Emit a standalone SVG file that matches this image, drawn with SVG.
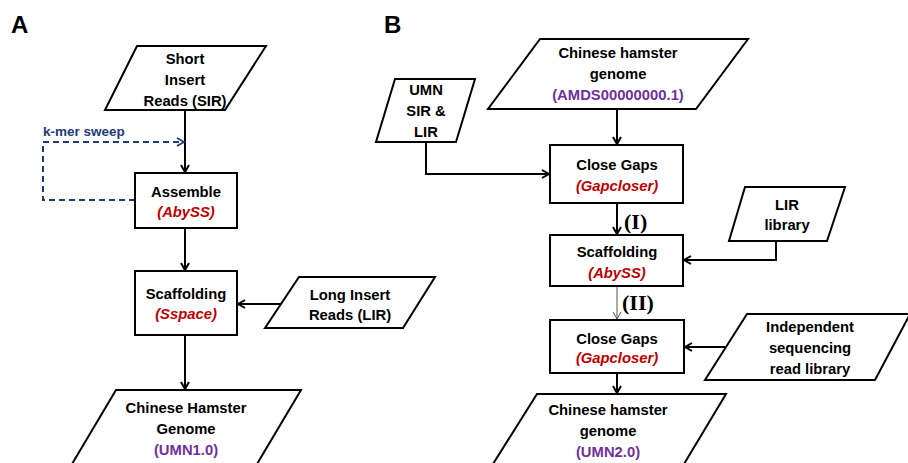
<svg xmlns="http://www.w3.org/2000/svg" width="908" height="463" viewBox="0 0 908 463">
<defs>
<marker id="arr" markerWidth="10" markerHeight="10" refX="8" refY="5" orient="auto" markerUnits="userSpaceOnUse">
<path d="M1,1 L8,5 L1,9" fill="none" stroke="#000" stroke-width="2"/>
</marker>
<marker id="arrThin" markerWidth="10" markerHeight="10" refX="8" refY="5" orient="auto" markerUnits="userSpaceOnUse">
<path d="M1,1 L8,5 L1,9" fill="none" stroke="#555" stroke-width="1"/>
</marker>
<marker id="arrBlue" markerWidth="10" markerHeight="10" refX="8" refY="5" orient="auto" markerUnits="userSpaceOnUse">
<path d="M1,1 L8,5 L1,9" fill="none" stroke="#1f3a78" stroke-width="1.8"/>
</marker>
</defs>
<style>
.shape{fill:#fff;stroke:#000;stroke-width:2}
.t{font-family:"Liberation Sans",Arial,sans-serif;font-weight:bold;font-size:14.8px;fill:#000;text-anchor:middle}
.red{fill:#c00000;font-style:italic}
.pur{fill:#7030a0}
.panel{font-family:"Liberation Sans",Arial,sans-serif;font-weight:bold;font-size:24px;fill:#000}
.roman{font-family:"Liberation Serif","Times New Roman",serif;font-weight:bold;font-size:22px;fill:#000}
.conn{fill:none;stroke:#000;stroke-width:2}
</style>
<rect width="908" height="463" fill="#fff"/>
<text class="panel" x="11" y="33">A</text>
<text class="panel" x="384" y="33">B</text>

<g id="connectors">
<line class="conn" x1="185" y1="110" x2="185" y2="172" marker-end="url(#arr)"/>
<path d="M135,200 H43 V142 H184" fill="none" stroke="#1f3a78" stroke-width="2" stroke-dasharray="6,4" marker-end="url(#arrBlue)"/>
<line class="conn" x1="185" y1="228" x2="185" y2="270" marker-end="url(#arr)"/>
<line class="conn" x1="282" y1="304" x2="238" y2="304" marker-end="url(#arr)"/>
<line class="conn" x1="185" y1="335" x2="185" y2="389" marker-end="url(#arr)"/>

<line class="conn" x1="617" y1="109" x2="617" y2="144" marker-end="url(#arr)"/>
<path class="conn" d="M426,142 V174 H549" marker-end="url(#arr)"/>
<line class="conn" x1="617" y1="203" x2="617" y2="234" marker-end="url(#arr)"/>
<path class="conn" d="M776,241 V260 H684" marker-end="url(#arr)"/>
<line x1="617" y1="286" x2="617" y2="319" stroke="#555" stroke-width="1" marker-end="url(#arrThin)"/>
<line class="conn" x1="725" y1="347" x2="685" y2="347" marker-end="url(#arr)"/>
<line class="conn" x1="617" y1="373" x2="617" y2="393" marker-end="url(#arr)"/>
</g>
<text x="43" y="136" font-family="Liberation Sans,Arial,sans-serif" font-weight="bold" font-size="13.5" fill="#1f3a78">k-mer sweep</text>
<text class="roman" x="624" y="229">(I)</text>
<text class="roman" x="622" y="310">(II)</text>

<g id="sir">
<polygon class="shape" points="137,46 266,46 225,110 105,110"/>
<text class="t" x="185" y="64">Short</text>
<text class="t" x="185" y="85">Insert</text>
<text class="t" x="185" y="106">Reads (SIR)</text>
</g>
<g id="assemble">
<rect class="shape" x="135" y="173" width="102" height="55"/>
<text class="t" x="186" y="197">Assemble</text>
<text class="t red" x="186" y="217">(AbySS)</text>
</g>
<g id="scaffoldA">
<rect class="shape" x="135" y="271" width="102" height="64"/>
<text class="t" x="186" y="299">Scaffolding</text>
<text class="t red" x="186" y="319">(Sspace)</text>
</g>
<g id="lirA">
<polygon class="shape" points="299,277 435,277 403,328 265,328"/>
<text class="t" x="350" y="300">Long Insert</text>
<text class="t" x="350" y="320">Reads (LIR)</text>
</g>
<g id="genomeA">
<polygon class="shape" points="116,390 301,390 257,464 72,464"/>
<text class="t" x="186" y="413">Chinese Hamster</text>
<text class="t" x="186" y="434">Genome</text>
<text class="t pur" x="186" y="455">(UMN1.0)</text>
</g>

<g id="genomeB">
<polygon class="shape" points="540,39 748,39 696,109 488,109"/>
<text class="t" x="618" y="58">Chinese hamster</text>
<text class="t" x="618" y="79">genome</text>
<text class="t pur" x="618" y="100">(AMDS00000000.1)</text>
</g>
<g id="umn">
<polygon class="shape" points="395,79 475,79 456,142 376,142"/>
<text class="t" x="426" y="95">UMN</text>
<text class="t" x="426" y="116">SIR &amp;</text>
<text class="t" x="426" y="137">LIR</text>
</g>
<g id="closegaps1">
<rect class="shape" x="550" y="145" width="133" height="58"/>
<text class="t" x="617" y="170">Close Gaps</text>
<text class="t red" x="617" y="191">(Gapcloser)</text>
</g>
<g id="lirB">
<polygon class="shape" points="745,187 845,187 827,241 729,241"/>
<text class="t" x="787" y="210">LIR</text>
<text class="t" x="787" y="230">library</text>
</g>
<g id="scaffoldB">
<rect class="shape" x="550" y="235" width="133" height="51"/>
<text class="t" x="617" y="257">Scaffolding</text>
<text class="t red" x="617" y="278">(AbySS)</text>
</g>
<g id="closegaps2">
<rect class="shape" x="550" y="320" width="134" height="53"/>
<text class="t" x="617" y="344">Close Gaps</text>
<text class="t red" x="617" y="363">(Gapcloser)</text>
</g>
<g id="indep">
<polygon class="shape" points="747,314 910,314 875,380 705,380"/>
<text class="t" x="810" y="332">Independent</text>
<text class="t" x="810" y="353">sequencing</text>
<text class="t" x="810" y="374">read library</text>
</g>
<g id="genomeB2">
<polygon class="shape" points="537,394 726,394 684,464 493,464"/>
<text class="t" x="608" y="415">Chinese hamster</text>
<text class="t" x="608" y="436">genome</text>
<text class="t pur" x="608" y="457">(UMN2.0)</text>
</g>
</svg>
